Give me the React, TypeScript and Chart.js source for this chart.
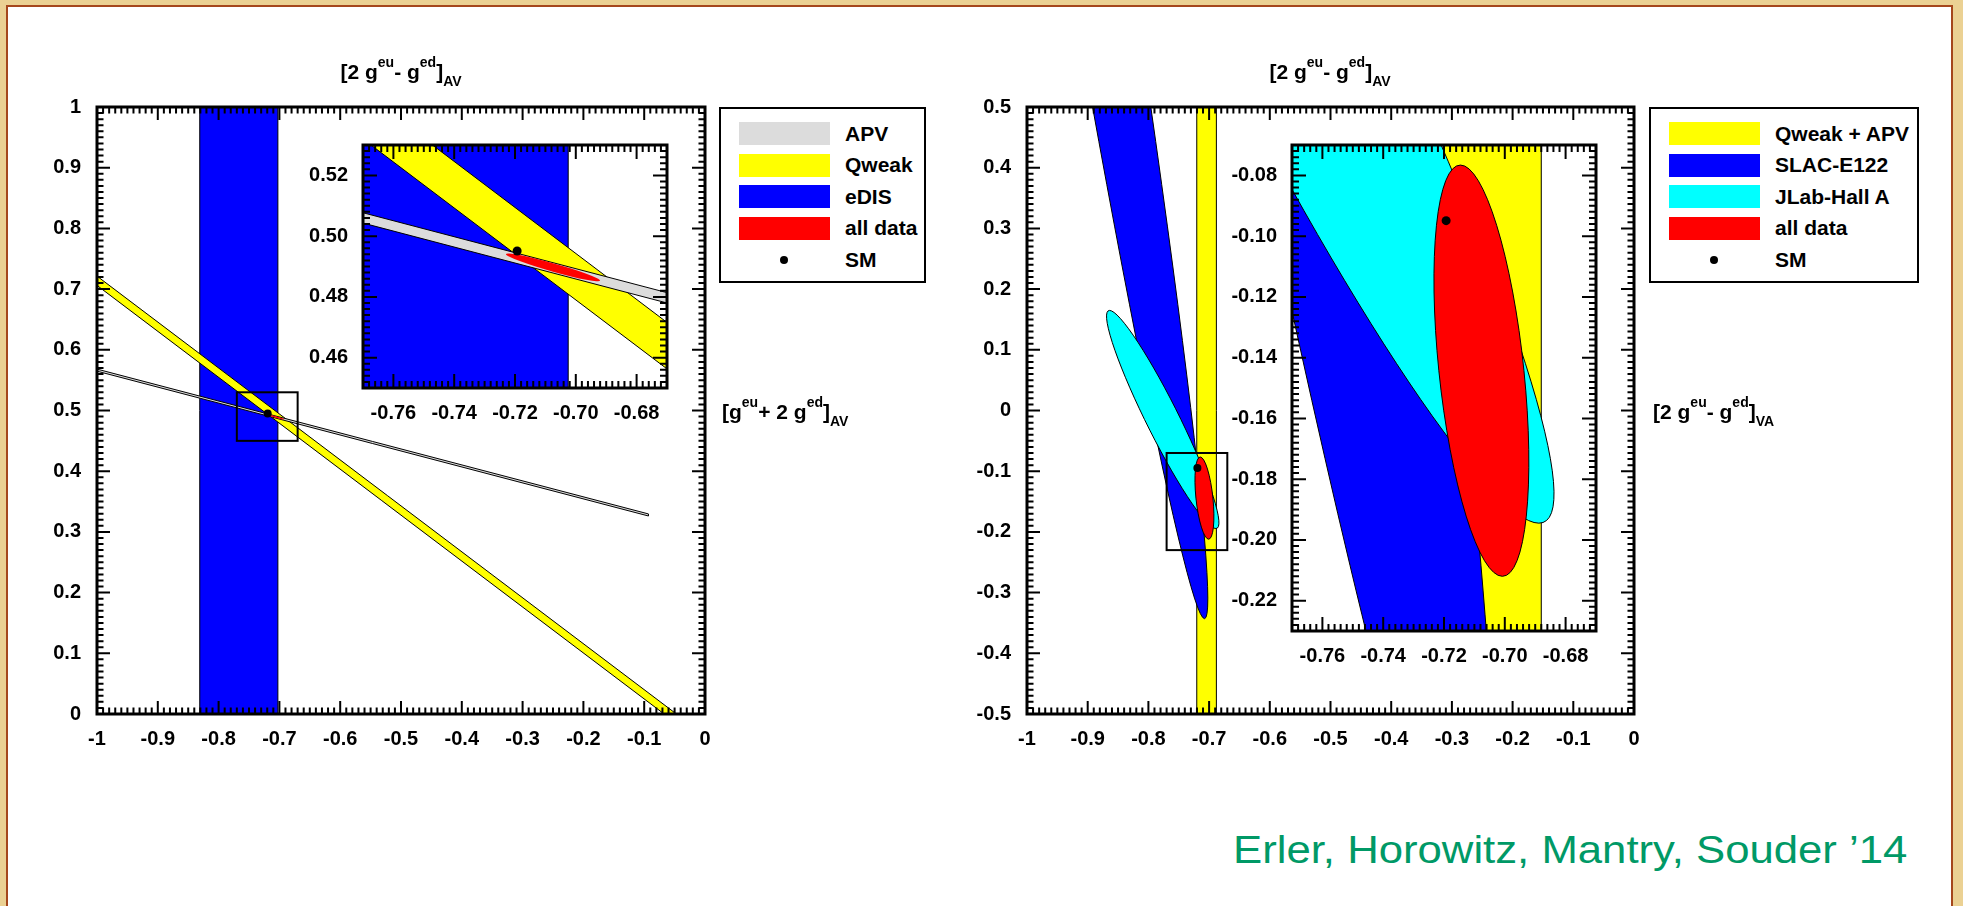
import React, { useEffect, useRef } from "react";
import { Chart, registerables } from "chart.js";

Chart.register(...registerables);

const FONT = "'Liberation Sans', Arial, Helvetica, sans-serif";

// ---------------- Left panel: x = [2g^eu - g^ed]_AV, y = [g^eu + 2g^ed]_AV ----------------
const LEFT_X_RANGE = [-1, 0];
const LEFT_Y_RANGE = [0, 1];
const LEFT_X_TICKS = [-1, -0.9, -0.8, -0.7, -0.6, -0.5, -0.4, -0.3, -0.2, -0.1, 0];
const LEFT_Y_TICKS = [0, 0.1, 0.2, 0.3, 0.4, 0.5, 0.6, 0.7, 0.8, 0.9, 1];
const LEFT_INSET_X_RANGE = [-0.77, -0.67];
const LEFT_INSET_Y_RANGE = [0.45, 0.53];
const INSET_X_TICKS = [-0.76, -0.74, -0.72, -0.7, -0.68];
const LEFT_INSET_Y_TICKS = [0.46, 0.48, 0.5, 0.52];

// bands as polygons (data units), ellipses as centre + conjugate semi-axes (data units)
const EDIS_BAND = [[-0.831, -1], [-0.7025, -1], [-0.7025, 2], [-0.831, 2]];
const QWEAK_BAND = [[-1, 0.7061], [0, -0.0509], [0, -0.0356], [-1, 0.7214]];
const APV_BAND = [[-1, 0.5682], [-0.093, 0.3296], [-0.093, 0.3262], [-1, 0.5648]];
const LEFT_ALL_DATA = { center: [-0.7075, 0.4897], u: [0.0155, -0.00435], v: [0, 0.0014] };
const SM_LEFT = [-0.7193, 0.4951];

// ---------------- Right panel: x = [2g^eu - g^ed]_AV, y = [2g^eu - g^ed]_VA ----------------
const RIGHT_X_RANGE = [-1, 0];
const RIGHT_Y_RANGE = [-0.5, 0.5];
const RIGHT_X_TICKS = [-1, -0.9, -0.8, -0.7, -0.6, -0.5, -0.4, -0.3, -0.2, -0.1, 0];
const RIGHT_Y_TICKS = [-0.5, -0.4, -0.3, -0.2, -0.1, 0, 0.1, 0.2, 0.3, 0.4, 0.5];
const RIGHT_INSET_X_RANGE = [-0.77, -0.67];
const RIGHT_INSET_Y_RANGE = [-0.23, -0.07];
const RIGHT_INSET_Y_TICKS = [-0.22, -0.2, -0.18, -0.16, -0.14, -0.12, -0.1, -0.08];

const QWEAK_APV_BAND = [[-0.7203, -2], [-0.688, -2], [-0.688, 2], [-0.7203, 2]];
const SLAC_E122 = { center: [-0.9938, 1.426], u: [0.2862, -1.769], v: [0.0563, 0] };
const JLAB_HALL_A = { center: [-0.7764, -0.0148], u: [0.0876, -0.1797], v: [0.03, 0] };
const RIGHT_ALL_DATA = { center: [-0.7077, -0.1443], u: [0.0069, -0.0677], v: [0.014, 0] };
const SM_RIGHT = [-0.7193, -0.0949];

// legends
const LEFT_LEGEND_LABELS = ["APV", "Qweak", "eDIS", "all data", "SM"];
const LEFT_LEGEND_COLORS = ["#dcdcdc", "#ffff00", "#0000ff", "#ff0000", null];
const RIGHT_LEGEND_LABELS = ["Qweak + APV", "SLAC-E122", "JLab-Hall A", "all data", "SM"];
const RIGHT_LEGEND_COLORS = ["#ffff00", "#0000ff", "#00ffff", "#ff0000", null];

const C_APV = "#dcdcdc";
const C_YEL = "#ffff00";
const C_BLUE = "#0000ff";
const C_RED = "#ff0000";
const C_CYAN = "#00ffff";

const LEFT_LAYERS = [
  { poly: EDIS_BAND, fill: C_BLUE },
  { poly: QWEAK_BAND, fill: C_YEL },
  { poly: APV_BAND, fill: C_APV },
  { ellipse: LEFT_ALL_DATA, fill: C_RED, noStroke: true },
];
const RIGHT_LAYERS = [
  { poly: QWEAK_APV_BAND, fill: C_YEL },
  { ellipse: SLAC_E122, fill: C_BLUE },
  { ellipse: JLAB_HALL_A, fill: C_CYAN },
  { ellipse: RIGHT_ALL_DATA, fill: C_RED },
];

function fmt(v: number, d: number) {
  const s = Number(v).toFixed(d);
  return d === 1 ? String(parseFloat(s)) : s;
}

function rootPlugin(p: any) {
  return {
    id: "rootStyle",
    beforeDatasetsDraw(chart: any) {
      const { ctx, chartArea: a } = chart;
      const xs = chart.scales.x;
      const ys = chart.scales.y;
      ctx.save();
      ctx.fillStyle = "#ffffff";
      ctx.fillRect(a.left, a.top, a.right - a.left, a.bottom - a.top);
      ctx.beginPath();
      ctx.rect(a.left, a.top, a.right - a.left, a.bottom - a.top);
      ctx.clip();
      for (const layer of p.layers) {
        ctx.beginPath();
        if (layer.poly) {
          layer.poly.forEach((pt: number[], i: number) => {
            const X = xs.getPixelForValue(pt[0]);
            const Y = ys.getPixelForValue(pt[1]);
            if (i === 0) ctx.moveTo(X, Y);
            else ctx.lineTo(X, Y);
          });
          ctx.closePath();
        } else {
          const e = layer.ellipse;
          const cx = xs.getPixelForValue(e.center[0]);
          const cy = ys.getPixelForValue(e.center[1]);
          const ux = xs.getPixelForValue(e.center[0] + e.u[0]) - cx;
          const uy = ys.getPixelForValue(e.center[1] + e.u[1]) - cy;
          const vx = xs.getPixelForValue(e.center[0] + e.v[0]) - cx;
          const vy = ys.getPixelForValue(e.center[1] + e.v[1]) - cy;
          ctx.save();
          ctx.transform(ux, uy, vx, vy, cx, cy);
          ctx.moveTo(1, 0);
          ctx.arc(0, 0, 1, 0, Math.PI * 2);
          ctx.restore();
          ctx.closePath();
        }
        ctx.fillStyle = layer.fill;
        ctx.fill();
        if (!layer.noStroke || p.strokeAll) {
          ctx.lineWidth = 1;
          ctx.strokeStyle = "#000";
          ctx.stroke();
        }
      }
      ctx.restore();
    },
    afterDatasetsDraw(chart: any) {
      const { ctx, chartArea: a } = chart;
      const xs = chart.scales.x;
      const ys = chart.scales.y;
      ctx.save();
      if (p.box) {
        const X0 = xs.getPixelForValue(p.box[0][0]);
        const X1 = xs.getPixelForValue(p.box[0][1]);
        const Y0 = ys.getPixelForValue(p.box[1][0]);
        const Y1 = ys.getPixelForValue(p.box[1][1]);
        ctx.lineWidth = 2;
        ctx.strokeStyle = "#000";
        ctx.strokeRect(Math.min(X0, X1), Math.min(Y0, Y1), Math.abs(X1 - X0), Math.abs(Y1 - Y0));
      }
      ctx.strokeStyle = "#000";
      ctx.lineWidth = p.tickWidth;
      ctx.beginPath();
      const axisTicks = (scale: any, majors: number[], step: number, horiz: boolean) => {
        const n0 = Math.ceil(scale.min / step - 1e-6);
        const n1 = Math.floor(scale.max / step + 1e-6);
        for (let k = n0; k <= n1; k++) {
          const v = k * step;
          const major = majors.some((m) => Math.abs(m - v) < step * 0.25);
          const len = major ? p.majLen : p.minLen;
          const px = scale.getPixelForValue(v);
          if (horiz) {
            ctx.moveTo(px, a.bottom);
            ctx.lineTo(px, a.bottom - len);
            ctx.moveTo(px, a.top);
            ctx.lineTo(px, a.top + len);
          } else {
            ctx.moveTo(a.left, px);
            ctx.lineTo(a.left + len, px);
            ctx.moveTo(a.right, px);
            ctx.lineTo(a.right - len, px);
          }
        }
      };
      axisTicks(xs, p.xTicks, p.minorX, true);
      axisTicks(ys, p.yTicks, p.minorY, false);
      ctx.stroke();
      ctx.lineWidth = p.frameWidth;
      ctx.strokeRect(a.left, a.top, a.right - a.left, a.bottom - a.top);
      ctx.restore();
    },
  };
}

function makeChart(canvas: HTMLCanvasElement, p: any) {
  const tickFont = { family: FONT, size: 20, weight: "bold" as const };
  return new Chart(canvas, {
    type: "scatter",
    data: {
      datasets: [
        {
          data: [{ x: p.sm[0], y: p.sm[1] }],
          pointRadius: p.smRadius,
          pointHoverRadius: p.smRadius,
          pointBackgroundColor: "#000",
          pointBorderWidth: 0,
        },
      ],
    },
    options: {
      animation: false,
      responsive: false,
      events: [],
      layout: { padding: { top: p.padTop, right: p.padRight, left: 0, bottom: 0 } },
      plugins: { legend: { display: false }, tooltip: { enabled: false } },
      scales: {
        x: {
          type: "linear",
          min: p.xRange[0],
          max: p.xRange[1],
          afterBuildTicks: (s: any) => {
            s.ticks = p.xTicks.map((v: number) => ({ value: v }));
          },
          afterFit: (s: any) => {
            s.height = p.xHeight;
          },
          grid: { display: false },
          border: { display: false },
          ticks: {
            autoSkip: false,
            maxRotation: 0,
            padding: p.xPad,
            color: "#000",
            font: tickFont,
            callback: (v: any) => fmt(v, p.xDigits),
          },
        },
        y: {
          type: "linear",
          min: p.yRange[0],
          max: p.yRange[1],
          afterBuildTicks: (s: any) => {
            s.ticks = p.yTicks.map((v: number) => ({ value: v }));
          },
          afterFit: (s: any) => {
            s.width = p.yWidth;
          },
          grid: { display: false },
          border: { display: false },
          ticks: {
            autoSkip: false,
            padding: p.yPad,
            color: "#000",
            font: tickFont,
            callback: (v: any) => fmt(v, p.yDigits),
          },
        },
      },
    } as any,
    plugins: [rootPlugin(p)],
  });
}

const supS: any = { fontSize: 14, position: "relative", top: -12 };
const subS: any = { fontSize: 14, position: "relative", top: 7 };

function Legend({ left, width, labels, colors }: any) {
  return (
    <div
      style={{
        position: "absolute",
        left,
        top: 107,
        width,
        height: 176,
        border: "2px solid #000",
        boxSizing: "border-box",
        background: "#fff",
      }}
    >
      {labels.map((lab: string, i: number) => {
        const cy = 24.5 + i * 31.6;
        return (
          <React.Fragment key={lab}>
            {colors[i] ? (
              <div
                style={{
                  position: "absolute",
                  left: 18,
                  top: cy - 11.5,
                  width: 91,
                  height: 23,
                  background: colors[i],
                }}
              />
            ) : (
              <div
                style={{
                  position: "absolute",
                  left: 59,
                  top: cy - 4,
                  width: 8,
                  height: 8,
                  borderRadius: 4,
                  background: "#000",
                }}
              />
            )}
            <div
              style={{
                position: "absolute",
                left: 124,
                top: cy - 12,
                lineHeight: "24px",
                fontSize: 21,
                fontWeight: "bold",
                whiteSpace: "nowrap",
              }}
            >
              {lab}
            </div>
          </React.Fragment>
        );
      })}
    </div>
  );
}

export default function App() {
  const mainL = useRef<HTMLCanvasElement>(null);
  const insetL = useRef<HTMLCanvasElement>(null);
  const mainR = useRef<HTMLCanvasElement>(null);
  const insetR = useRef<HTMLCanvasElement>(null);

  useEffect(() => {
    document.body.style.margin = "0";
    const mainCommon = {
      padTop: 20,
      padRight: 20,
      yWidth: 60,
      xHeight: 45,
      xPad: 5,
      yPad: 8,
      xDigits: 1,
      yDigits: 1,
      minorX: 0.01,
      minorY: 0.01,
      majLen: 13,
      minLen: 6.5,
      tickWidth: 2,
      frameWidth: 3,
      smRadius: 4,
    };
    const insetCommon = {
      padTop: 20,
      padRight: 30,
      yWidth: 70,
      xHeight: 40,
      xPad: 5,
      yPad: 7,
      xDigits: 2,
      yDigits: 2,
      minorX: 0.002,
      minorY: 0.002,
      majLen: 14,
      minLen: 7,
      tickWidth: 2,
      frameWidth: 3,
      smRadius: 4.5,
    };
    const charts = [
      makeChart(mainL.current!, {
        ...mainCommon,
        xRange: LEFT_X_RANGE,
        yRange: LEFT_Y_RANGE,
        xTicks: LEFT_X_TICKS,
        yTicks: LEFT_Y_TICKS,
        layers: LEFT_LAYERS,
        strokeAll: false,
        sm: SM_LEFT,
        box: [LEFT_INSET_X_RANGE, LEFT_INSET_Y_RANGE],
      }),
      makeChart(insetL.current!, {
        ...insetCommon,
        xRange: LEFT_INSET_X_RANGE,
        yRange: LEFT_INSET_Y_RANGE,
        xTicks: INSET_X_TICKS,
        yTicks: LEFT_INSET_Y_TICKS,
        layers: LEFT_LAYERS,
        sm: SM_LEFT,
      }),
      makeChart(mainR.current!, {
        ...mainCommon,
        xRange: RIGHT_X_RANGE,
        yRange: RIGHT_Y_RANGE,
        xTicks: RIGHT_X_TICKS,
        yTicks: RIGHT_Y_TICKS,
        layers: RIGHT_LAYERS,
        sm: SM_RIGHT,
        box: [RIGHT_INSET_X_RANGE, RIGHT_INSET_Y_RANGE],
      }),
      makeChart(insetR.current!, {
        ...insetCommon,
        xRange: RIGHT_INSET_X_RANGE,
        yRange: RIGHT_INSET_Y_RANGE,
        xTicks: INSET_X_TICKS,
        yTicks: RIGHT_INSET_Y_TICKS,
        layers: RIGHT_LAYERS,
        sm: SM_RIGHT,
      }),
    ];
    return () => charts.forEach((c) => c.destroy());
  }, []);

  const cv = (ref: any, left: number, top: number, w: number, h: number) => (
    <canvas
      ref={ref}
      width={w}
      height={h}
      style={{ position: "absolute", left, top, width: w, height: h }}
    />
  );

  const title: any = {
    position: "absolute",
    fontSize: 21,
    fontWeight: "bold",
    lineHeight: "21px",
    whiteSpace: "nowrap",
  };

  return (
    <div
      style={{
        position: "fixed",
        left: 0,
        top: 0,
        width: 1963,
        height: 906,
        background: "#ebd193",
        overflow: "hidden",
        fontFamily: FONT,
        color: "#000",
      }}
    >
      <div
        style={{
          position: "absolute",
          left: 6,
          top: 5,
          width: 1943,
          height: 960,
          background: "#fff",
          border: "2px solid #a5471c",
        }}
      />
      {cv(mainL, 37, 87, 688, 672)}
      {cv(mainR, 967, 87, 687, 672)}
      {cv(insetL, 293, 125, 404, 303)}
      {cv(insetR, 1222, 125, 404, 546)}

      <div style={{ ...title, left: 401, top: 61, transform: "translateX(-50%)" }}>
        [2 g<span style={supS}>eu</span>- g<span style={supS}>ed</span>]<span style={subS}>AV</span>
      </div>
      <div style={{ ...title, left: 1330, top: 61, transform: "translateX(-50%)" }}>
        [2 g<span style={supS}>eu</span>- g<span style={supS}>ed</span>]<span style={subS}>AV</span>
      </div>
      <div style={{ ...title, left: 722, top: 401 }}>
        [g<span style={supS}>eu</span>+ 2 g<span style={supS}>ed</span>]<span style={subS}>AV</span>
      </div>
      <div style={{ ...title, left: 1653, top: 401 }}>
        [2 g<span style={supS}>eu</span>- g<span style={supS}>ed</span>]<span style={subS}>VA</span>
      </div>

      <Legend left={719} width={207} labels={LEFT_LEGEND_LABELS} colors={LEFT_LEGEND_COLORS} />
      <Legend left={1649} width={270} labels={RIGHT_LEGEND_LABELS} colors={RIGHT_LEGEND_COLORS} />

      <div
        style={{
          position: "absolute",
          left: 1233,
          top: 831,
          fontSize: 38,
          lineHeight: "38px",
          color: "#009966",
          whiteSpace: "nowrap",
          transform: "scaleX(1.15)",
          transformOrigin: "left top",
        }}
      >
        Erler, Horowitz, Mantry, Souder {"\u2019"}14
      </div>
    </div>
  );
}
